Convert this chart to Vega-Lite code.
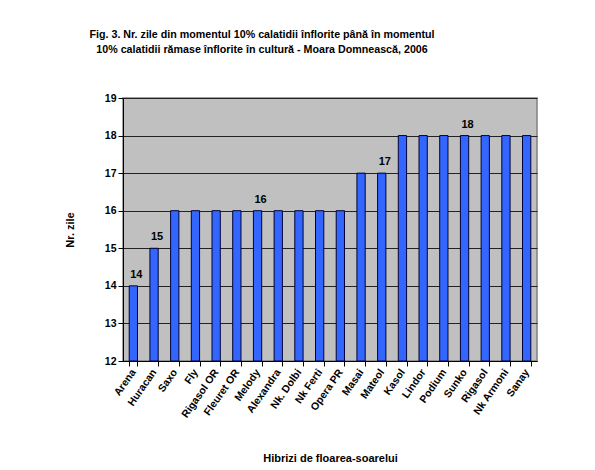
{
  "$schema": "https://vega.github.io/schema/vega-lite/v6.json",
  "width": 414,
  "height": 263,
  "autosize": "none",
  "padding": {"left": 123, "top": 98, "right": 58, "bottom": 109},
  "background": "white",
  "title": {
    "text": ["Fig. 3. Nr. zile din momentul 10% calatidii înflorite până în momentul", "10% calatidii rămase înflorite în cultură - Moara Domnească, 2006"],
    "font": "Liberation Sans",
    "fontSize": 10.7,
    "fontWeight": "bold",
    "color": "black",
    "anchor": "middle",
    "align": "center",
    "frame": "group",
    "dx": -68,
    "offset": 37,
    "lineHeight": 15
  },
  "data": {
    "values": [
      {"hibrid": "Arena", "zile": 14, "label": "14"},
      {"hibrid": "Huracan", "zile": 15, "label": "15"},
      {"hibrid": "Saxo", "zile": 16, "label": ""},
      {"hibrid": "Fly", "zile": 16, "label": ""},
      {"hibrid": "Rigasol OR", "zile": 16, "label": ""},
      {"hibrid": "Fleuret OR", "zile": 16, "label": ""},
      {"hibrid": "Melody", "zile": 16, "label": "16"},
      {"hibrid": "Alexandra", "zile": 16, "label": ""},
      {"hibrid": "Nk. Dolbi", "zile": 16, "label": ""},
      {"hibrid": "Nk Ferti", "zile": 16, "label": ""},
      {"hibrid": "Opera PR", "zile": 16, "label": ""},
      {"hibrid": "Masai", "zile": 17, "label": ""},
      {"hibrid": "Mateol", "zile": 17, "label": "17"},
      {"hibrid": "Kasol", "zile": 18, "label": ""},
      {"hibrid": "Lindor", "zile": 18, "label": ""},
      {"hibrid": "Podium", "zile": 18, "label": ""},
      {"hibrid": "Sunko", "zile": 18, "label": "18"},
      {"hibrid": "Rigasol", "zile": 18, "label": ""},
      {"hibrid": "Nk Armoni", "zile": 18, "label": ""},
      {"hibrid": "Sanay", "zile": 18, "label": ""}
    ]
  },
  "encoding": {
    "x": {
      "field": "hibrid",
      "type": "nominal",
      "sort": null,
      "scale": {"paddingInner": 0.6, "paddingOuter": 0.3},
      "axis": {
        "title": "Hibrizi de floarea-soarelui",
        "titleFont": "Liberation Sans",
        "titleFontSize": 11,
        "titleFontWeight": "bold",
        "titleColor": "black",
        "titlePadding": 33,
        "labelAngle": -55,
        "labelAlign": "right",
        "labelBaseline": "middle",
        "labelFont": "Liberation Sans",
        "labelFontSize": 10.5,
        "labelFontWeight": "bold",
        "labelColor": "black",
        "labelPadding": 4,
        "tickBand": "extent",
        "tickColor": "black",
        "tickSize": 5,
        "domainColor": "black",
        "grid": false
      }
    },
    "y": {
      "field": "zile",
      "type": "quantitative",
      "scale": {"domain": [12, 19], "nice": false, "zero": false},
      "axis": {
        "title": "Nr. zile",
        "titleFont": "Liberation Sans",
        "titleFontSize": 11,
        "titleFontWeight": "bold",
        "titleColor": "black",
        "titlePadding": 29,
        "values": [12, 13, 14, 15, 16, 17, 18, 19],
        "labelFont": "Liberation Sans",
        "labelFontSize": 10.5,
        "labelFontWeight": "bold",
        "labelColor": "black",
        "labelPadding": 2,
        "tickColor": "black",
        "tickSize": 5,
        "domainColor": "black",
        "grid": true,
        "gridColor": "#222222",
        "gridWidth": 1
      }
    }
  },
  "layer": [
    {
      "mark": {"type": "bar", "color": "#3366FF", "stroke": "#000033", "strokeWidth": 1},
      "encoding": {"y2": {"datum": 12}}
    },
    {
      "mark": {"type": "text", "font": "Liberation Sans", "fontSize": 11, "fontWeight": "bold", "color": "black", "baseline": "bottom", "dy": -6, "dx": 3},
      "encoding": {"text": {"field": "label"}}
    }
  ],
  "config": {
    "view": {"fill": "#C0C0C0", "stroke": "#808080", "strokeWidth": 1.5}
  }
}
